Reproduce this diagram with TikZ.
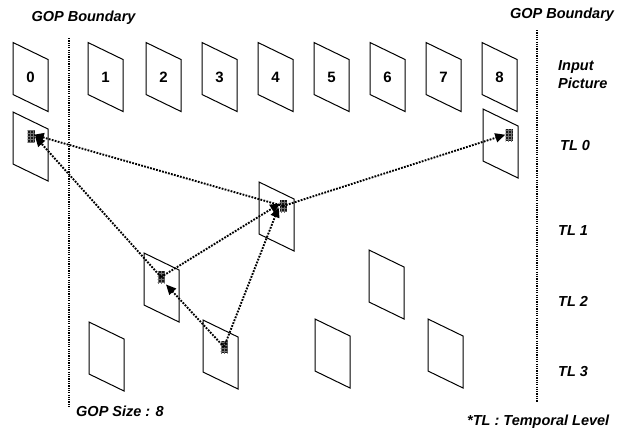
\documentclass[tikz,border=0pt]{standalone}
\usepackage{fontspec}
\setmainfont{Liberation Sans}
\usetikzlibrary{arrows.meta,patterns}

\begin{document}
\begin{tikzpicture}[x=1bp,y=-1bp,
  framestyle/.style={draw=black, line width=1bp},
  picframe/.pic={
    \draw[framestyle] (0,0) -- (35,17) -- (35,69) -- (0,52) -- cycle;
    \coordinate (-c) at (17.5,34.5);
  },
  num/.style={font=\fontsize{15bp}{17bp}\selectfont\bfseries, inner sep=0pt},
  lbl/.style={font=\fontsize{14.5bp}{16bp}\selectfont\bfseries\itshape, inner sep=0pt},
  patch/.style={minimum width=7bp, minimum height=12bp, inner sep=0pt,
    preaction={fill=black!90}, pattern=grid, pattern color=black!55},
  boundary/.style={line width=1.4bp, dash pattern=on 1.2bp off 1.1bp},
  link/.style={line width=1.9bp, dash pattern=on 1.8bp off 1.3bp,
    -{Triangle[length=10bp,width=9bp]}, shorten >=-1bp}
]
\useasboundingbox (0,0) rectangle (627,432);

% GOP boundaries
\coordinate (bl1) at (69,38);
\coordinate (bl2) at (69,407);
\coordinate (br1) at (537,30);
\coordinate (br2) at (537,402);
\draw[boundary] (bl1) -- (bl2);
\draw[boundary] (br1) -- (br2);

% input pictures
\foreach \n/\x in {0/13,1/88,2/146,3/202,4/258,5/314,6/370,7/426,8/482}{
  \pic (in\n) at (\x,42.5) {picframe};
  \node[num] (inl\n) at (in\n-c) {\n};
}

% temporal levels
\pic (t0a) at (13,112) {picframe};
\pic (t0b) at (483,109) {picframe};
\pic (t1a) at (259,182) {picframe};
\pic (t2a) at (144,253) {picframe};
\pic (t2b) at (369,250) {picframe};
\pic (t3a) at (89,322) {picframe};
\pic (t3b) at (203,320) {picframe};
\pic (t3c) at (315,319) {picframe};
\pic (t3d) at (428,319) {picframe};

% macroblocks
\node[patch] (p0) at (31,136) {};
\node[patch] (p8) at (509,135) {};
\node[patch] (p4) at (283,206) {};
\node[patch] (p2) at (161,277) {};
\node[patch] (p3) at (224,347) {};

% motion references
\draw[link] (p4.center) -- ([yshift=1bp]p0.east);
\draw[link] (p4.center) -- ([xshift=-1bp]p8.west);
\draw[link] (p2.center) -- ([shift={(1bp,5bp)}]p0.south east);
\draw[link] (p2.center) -- ([yshift=2bp]p4.west);
\draw[link] (p3.center) -- ([shift={(2bp,-2bp)}]p2.south east);
\draw[link] (p3.center) -- ([shift={(-1bp,4bp)}]p4.south west);

% labels
\node[lbl] (gl) at (83.5,18) {GOP Boundary};
\node[lbl] (gr) at (562,15) {GOP Boundary};
\node[lbl, anchor=west] (ip1) at (558,67) {Input};
\node[lbl, anchor=west] (ip2) at (558,83) {Picture};
\node[lbl, anchor=west] (tl0) at (560,146) {TL 0};
\node[lbl, anchor=west] (tl1) at (558,231) {TL 1};
\node[lbl, anchor=west] (tl2) at (558,301) {TL 2};
\node[lbl, anchor=west] (tl3) at (558,371) {TL 3};
\node[lbl, anchor=west] (gs) at (76,411) {GOP Size : 8};
\node[lbl, anchor=west] (leg) at (467,422) {*TL : Temporal Level};
\end{tikzpicture}
\end{document}
